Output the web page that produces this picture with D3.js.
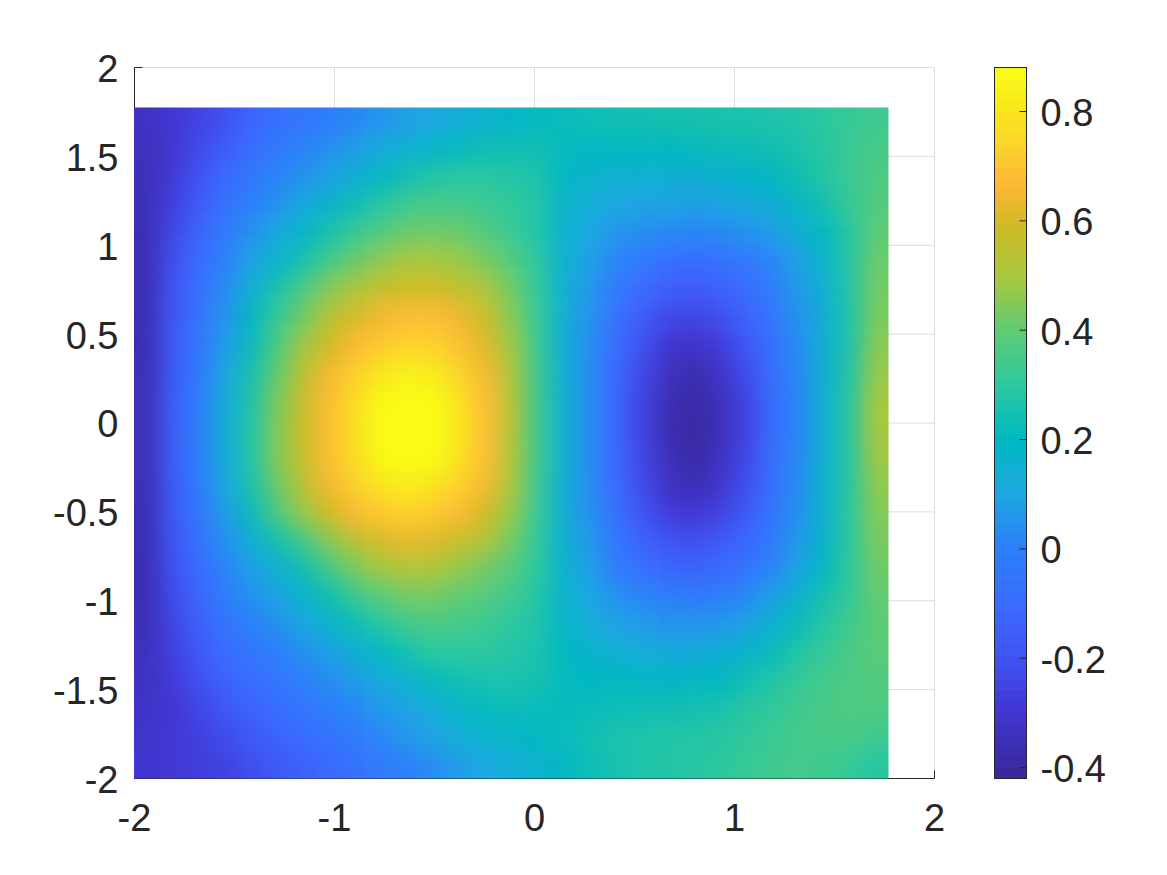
<!DOCTYPE html>
<html>
<head>
<meta charset="utf-8">
<script src="https://cdn.jsdelivr.net/npm/d3@7"></script>
<style>
  html, body { margin: 0; background: #fff; }
  text { font-family: "Liberation Sans", Arial, sans-serif; fill: #262626; }
</style>
</head>
<body>
<script>
// tick labels
var xTicks = [-2, -1, 0, 1, 2];
var yTicks = [-2, -1.5, -1, -0.5, 0, 0.5, 1, 1.5, 2];
var barTicks = [-0.4, -0.2, 0, 0.2, 0.4, 0.6, 0.8];

// field extent
var xEnd = 1.77;
var yEnd = 1.775;

// values, top row first
var field = [
  [-.34,-.30,-.26,-.21,-.13,-.08,-.05,-.01,.02,.05,.08,.10,.13,.16,.18,.21,.22,.23,.24,.24,.25,.25,.26,.26,.27,.28,.30,.32,.34],
  [-.35,-.30,-.23,-.16,-.09,-.03,.01,.04,.08,.12,.15,.18,.21,.23,.24,.24,.21,.20,.20,.20,.20,.21,.22,.23,.24,.26,.29,.33,.36],
  [-.36,-.29,-.20,-.11,-.04,.01,.05,.09,.14,.20,.25,.28,.30,.30,.28,.27,.19,.16,.15,.14,.14,.14,.15,.17,.20,.24,.28,.33,.37],
  [-.36,-.27,-.17,-.07,0,.05,.11,.17,.24,.30,.34,.36,.35,.33,.31,.28,.17,.13,.10,.09,.09,.08,.09,.11,.14,.18,.25,.32,.38],
  [-.37,-.24,-.13,-.03,.04,.11,.18,.26,.33,.38,.42,.43,.42,.38,.33,.28,.16,.10,.05,.03,.02,.01,.02,.04,.07,.13,.20,.29,.40],
  [-.37,-.22,-.10,0,.09,.17,.26,.35,.42,.47,.51,.51,.48,.44,.38,.30,.15,.08,.01,-.04,-.08,-.10,-.08,-.04,.01,.08,.17,.29,.42],
  [-.37,-.20,-.08,.03,.14,.26,.37,.46,.52,.57,.60,.60,.57,.52,.43,.31,.15,.06,-.03,-.11,-.16,-.18,-.15,-.10,-.02,.06,.15,.28,.43],
  [-.37,-.19,-.06,.05,.19,.32,.43,.54,.61,.66,.69,.69,.65,.58,.46,.32,.14,.05,-.07,-.17,-.24,-.26,-.22,-.15,-.05,.04,.14,.27,.44],
  [-.37,-.18,-.05,.07,.22,.37,.49,.60,.68,.72,.75,.74,.70,.62,.49,.33,.14,.03,-.09,-.21,-.30,-.33,-.28,-.19,-.08,.03,.14,.27,.46],
  [-.36,-.17,-.03,.10,.25,.41,.55,.66,.74,.81,.85,.82,.75,.66,.52,.34,.14,.03,-.11,-.24,-.34,-.38,-.33,-.23,-.09,.02,.15,.28,.48],
  [-.36,-.16,-.01,.12,.27,.44,.58,.69,.78,.87,.885,.88,.80,.69,.54,.34,.15,.03,-.12,-.26,-.36,-.40,-.35,-.26,-.10,.01,.15,.29,.50],
  [-.36,-.16,0,.13,.28,.45,.59,.69,.79,.88,.885,.885,.81,.69,.54,.34,.15,.03,-.12,-.26,-.37,-.41,-.36,-.26,-.10,.01,.15,.29,.50],
  [-.36,-.16,0,.12,.28,.45,.58,.69,.78,.87,.885,.875,.80,.69,.53,.34,.15,.03,-.11,-.25,-.35,-.40,-.34,-.25,-.09,.02,.15,.29,.49],
  [-.36,-.17,-.02,.10,.26,.42,.55,.66,.74,.80,.84,.80,.74,.66,.51,.33,.14,.03,-.10,-.23,-.33,-.37,-.32,-.22,-.08,.03,.16,.29,.47],
  [-.37,-.18,-.05,.07,.22,.37,.48,.60,.68,.72,.74,.72,.68,.60,.48,.32,.14,.04,-.08,-.20,-.28,-.30,-.26,-.18,-.06,.04,.16,.30,.45],
  [-.37,-.19,-.07,.04,.14,.25,.35,.46,.55,.61,.64,.62,.58,.52,.43,.31,.15,.06,-.05,-.14,-.20,-.22,-.18,-.12,-.03,.06,.17,.30,.44],
  [-.37,-.21,-.10,.01,.08,.15,.24,.35,.44,.49,.52,.51,.47,.43,.38,.30,.16,.08,-.02,-.08,-.12,-.14,-.11,-.07,.01,.09,.20,.31,.42],
  [-.37,-.23,-.12,-.02,.04,.09,.16,.24,.33,.39,.43,.43,.40,.38,.34,.28,.17,.10,.04,.01,-.01,-.02,-.01,.02,.08,.16,.25,.32,.41],
  [-.36,-.25,-.15,-.06,0,.04,.10,.16,.23,.29,.34,.36,.35,.33,.30,.27,.18,.13,.09,.07,.05,.05,.06,.09,.15,.22,.29,.34,.40],
  [-.35,-.27,-.18,-.10,-.05,-.01,.04,.08,.14,.20,.25,.30,.30,.30,.28,.26,.20,.17,.14,.13,.12,.12,.14,.17,.22,.28,.32,.36,.39],
  [-.34,-.29,-.21,-.14,-.09,-.05,0,.03,.07,.12,.16,.21,.24,.26,.26,.25,.21,.20,.20,.19,.19,.19,.20,.24,.28,.32,.35,.37,.38],
  [-.33,-.30,-.25,-.19,-.14,-.09,-.05,-.01,.02,.06,.09,.13,.18,.21,.22,.22,.21,.22,.23,.23,.24,.25,.26,.29,.31,.34,.36,.37,.37],
  [-.32,-.30,-.27,-.23,-.18,-.14,-.10,-.06,-.02,.02,.06,.09,.13,.16,.18,.20,.22,.24,.26,.27,.28,.28,.29,.31,.33,.35,.36,.36,.34],
  [-.31,-.30,-.28,-.26,-.22,-.18,-.15,-.11,-.07,-.03,0,.03,.07,.10,.13,.16,.19,.23,.25,.27,.28,.29,.30,.32,.34,.35,.34,.32,.29]
];

// colour map stops
var colorValues = [-.42, -.3, -.2, -.1, 0, .1, .2, .3, .4, .5, .6, .65, .68, .75, .8, .88];
var colorHex = ["#38289c", "#4237d4", "#3f55f5", "#3a6cff", "#2b80fa", "#1ca8e0", "#00b8c0", "#2bc8a0",
                "#5dcb75", "#a8c83f", "#d0bb25", "#f0b830", "#ffb936", "#fcd52c", "#f8e31f", "#f9fb15"];
var barLevels = 64;

var svg = d3.select("body").append("svg")
  .attr("width", 1167)
  .attr("height", 875);

var x = d3.scaleLinear().domain([-2, 2]).range([134.5, 934.5]);
var y = d3.scaleLinear().domain([-2, 2]).range([778.5, 67.5]);
var color = d3.scaleLinear().domain(colorValues).range(colorHex).clamp(true);

// cells
var col = d3.scaleBand().domain(d3.range(field[0].length)).range([x(-2) - 0.5, x(xEnd)]);
var row = d3.scaleBand().domain(d3.range(field.length)).range([y(yEnd), y(-2)]);

var defs = svg.append("defs");
defs.append("clipPath").attr("id", "plot")
  .append("rect")
  .attr("x", x(-2) - 0.5).attr("y", y(yEnd))
  .attr("width", x(xEnd) - x(-2) + 0.5).attr("height", y(-2) - y(yEnd));
var blur = defs.append("filter").attr("id", "soft")
  .attr("x", "-10%").attr("y", "-10%").attr("width", "120%").attr("height", "120%")
  .attr("color-interpolation-filters", "sRGB");
blur.append("feGaussianBlur").attr("stdDeviation", 11);

// grid and box under the field
var gridColor = "#dcdcdc";
var gridLayer = svg.append("g").attr("fill", "none").attr("stroke", gridColor);
gridLayer.selectAll(".gx").data(xTicks).join("line")
  .attr("x1", function (d) { return x(d); }).attr("x2", function (d) { return x(d); })
  .attr("y1", y(-2)).attr("y2", y(2));
gridLayer.selectAll(".gy").data(yTicks).join("line")
  .attr("y1", function (d) { return y(d); }).attr("y2", function (d) { return y(d); })
  .attr("x1", x(-2)).attr("x2", x(2));

var xAxis = d3.axisBottom(x).tickValues(xTicks).tickSizeInner(-8).tickSizeOuter(0).tickPadding(26).offset(0)
  .tickFormat(function (d) { return String(d); });
var yAxis = d3.axisLeft(y).tickValues(yTicks).tickSizeInner(-8).tickSizeOuter(0).tickPadding(16).offset(0)
  .tickFormat(function (d) { return String(d); });

var xg = svg.append("g").attr("transform", "translate(0," + y(-2) + ")").call(xAxis);
var yg = svg.append("g").attr("transform", "translate(" + x(-2) + ",0)").call(yAxis);
xg.selectAll("text").style("font-size", "38px").attr("fill", null);
yg.selectAll("text").style("font-size", "38px").attr("fill", null).attr("dy", "0.38em");
xg.selectAll("line,path").attr("stroke", "#262626");
yg.selectAll("line,path").attr("stroke", "#262626");

// heat field, softened; border cells run past the clip so the blur keeps full colour at the edge
var overrun = 40;
var lastCol = field[0].length - 1;
var lastRow = field.length - 1;
var heat = svg.append("g").attr("clip-path", "url(#plot)");
heat.append("g").attr("filter", "url(#soft)")
  .selectAll("g").data(field).join("g")
  .each(function (values, r) {
    d3.select(this).selectAll("rect").data(values).join("rect")
      .attr("x", function (d, c) { return col(c) - (c === 0 ? overrun : 0); })
      .attr("width", function (d, c) {
        return col.bandwidth() + 0.5 + (c === 0 || c === lastCol ? overrun : 0);
      })
      .attr("y", row(r) - (r === 0 ? overrun : 0))
      .attr("height", row.bandwidth() + 0.5 + (r === 0 || r === lastRow ? overrun : 0))
      .attr("fill", function (d) { return color(d); });
  });

// colour bar
var barX = [994.5, 1026.5];
var barY = d3.scaleLinear().domain([-0.42, 0.8805]).range([778.5, 67.5]);
var levelY = d3.scaleBand().domain(d3.range(barLevels)).range([778.5, 67.5]);
var levelValue = d3.scaleLinear().domain([0, barLevels - 1]).range([-0.42, 0.8805]);

var bar = svg.append("g");
bar.selectAll("rect").data(d3.range(barLevels)).join("rect")
  .attr("x", barX[0]).attr("width", barX[1] - barX[0])
  .attr("y", function (d) { return levelY(d) - 0.3; })
  .attr("height", levelY.bandwidth() + 0.6)
  .attr("fill", function (d) { return color(levelValue(d)); });

var barAxis = d3.axisRight(barY).tickValues(barTicks).tickSizeInner(-7).tickSizeOuter(0).tickPadding(14).offset(0)
  .tickFormat(function (d) { return String(d); });
var bg = svg.append("g").attr("transform", "translate(" + barX[1] + ",0)").call(barAxis);
bg.selectAll("text").style("font-size", "38px").attr("fill", null).attr("dy", "0.38em");
bg.selectAll("line").attr("stroke", "#262626");
bg.select("path").remove();

svg.append("rect")
  .attr("x", barX[0]).attr("y", barY.range()[1])
  .attr("width", barX[1] - barX[0]).attr("height", barY.range()[0] - barY.range()[1])
  .attr("fill", "none").attr("stroke", "#262626");
</script>
</body>
</html>
